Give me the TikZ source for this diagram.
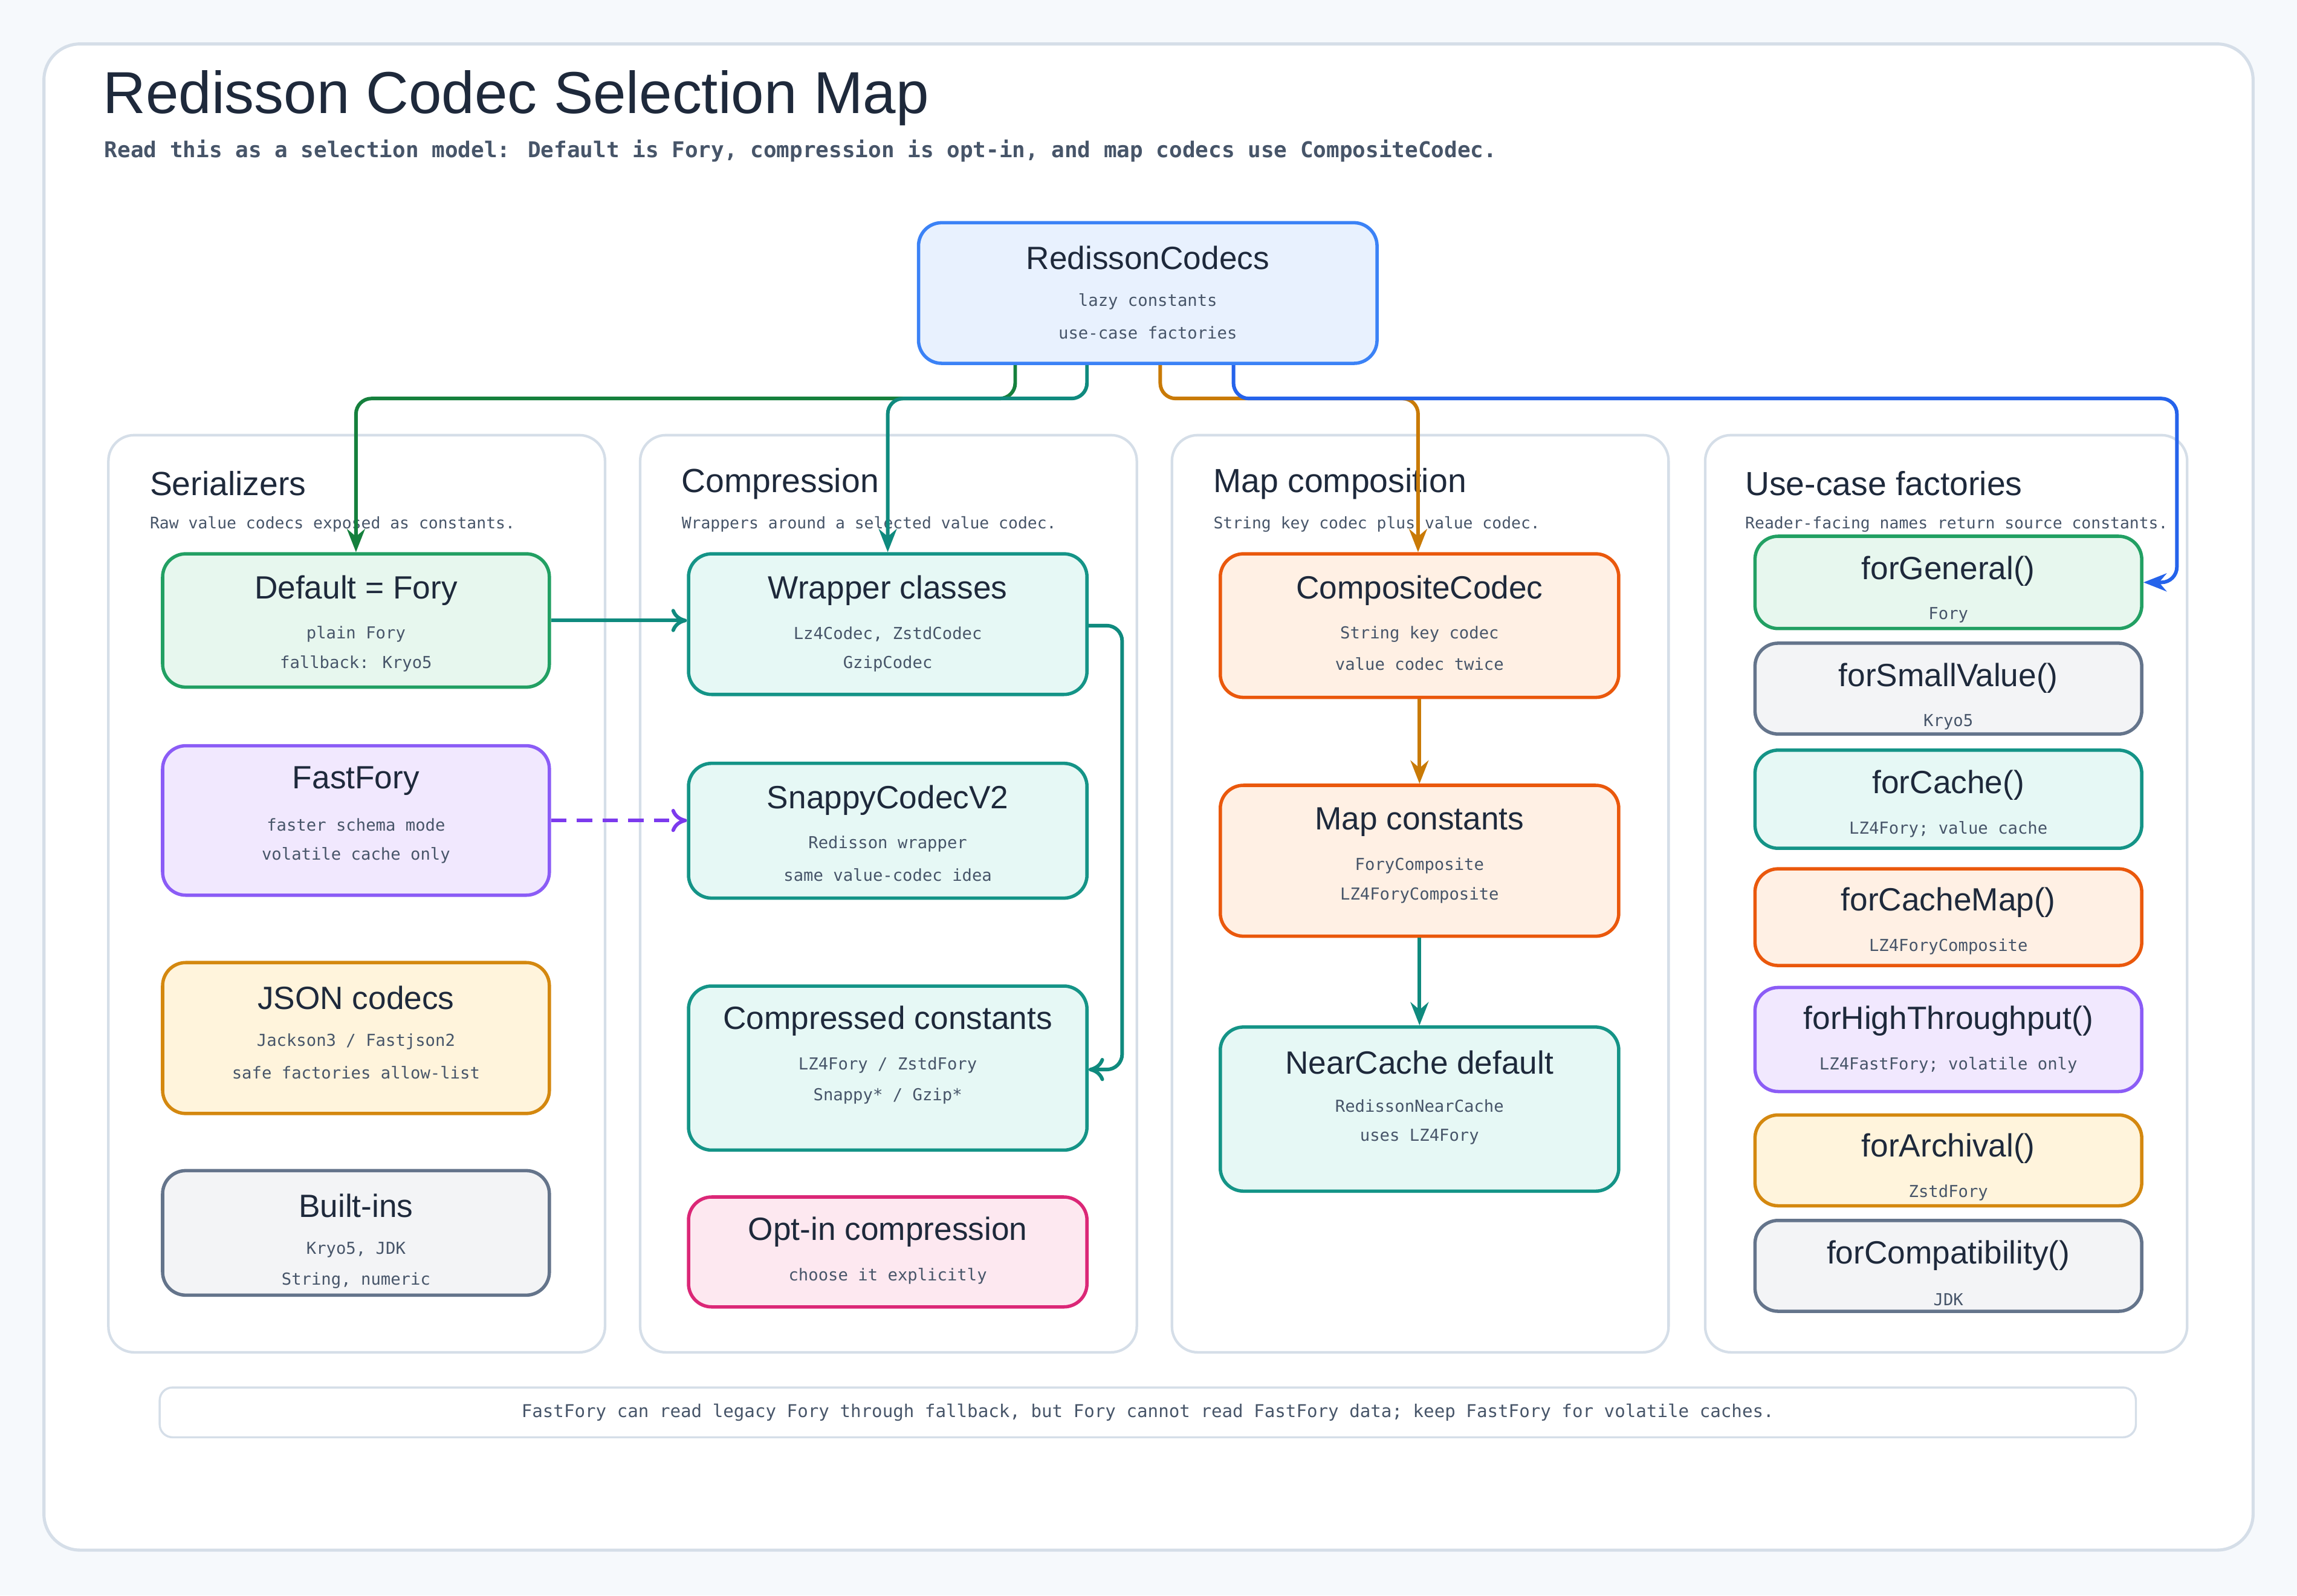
\documentclass[tikz,border=0pt]{standalone}
\usepackage{fontspec}
\setmainfont{Liberation Sans}
\newfontfamily\monof{DejaVu Sans Mono}
\usetikzlibrary{arrows.meta,calc}
\definecolor{bgc}{HTML}{F6F9FC}
\definecolor{frame}{HTML}{D5DEE8}
\definecolor{ink}{HTML}{1E293B}
\definecolor{sub}{HTML}{475569}
\definecolor{gF}{HTML}{E7F7EE}\definecolor{gS}{HTML}{22A063}
\definecolor{pF}{HTML}{F1E8FE}\definecolor{pS}{HTML}{8B5CF6}
\definecolor{aF}{HTML}{FFF4DC}\definecolor{aS}{HTML}{D4880F}
\definecolor{yF}{HTML}{F3F4F6}\definecolor{yS}{HTML}{64748B}
\definecolor{tF}{HTML}{E6F8F5}\definecolor{tS}{HTML}{149487}
\definecolor{kF}{HTML}{FDE8F0}\definecolor{kS}{HTML}{DB2777}
\definecolor{oF}{HTML}{FFF0E4}\definecolor{oS}{HTML}{EA580C}
\definecolor{bF}{HTML}{E8F1FE}\definecolor{bS}{HTML}{3B82F6}
\definecolor{cG}{HTML}{15803D}\definecolor{cT}{HTML}{0F8A7E}
\definecolor{cO}{HTML}{C97A06}\definecolor{cB}{HTML}{2563EB}
\definecolor{cP}{HTML}{7C3AED}
\tikzset{
 box/.style={draw, line width=1.3pt, rounded corners=9pt, inner sep=0pt},
 green/.style={box,fill=gF,draw=gS}, purple/.style={box,fill=pF,draw=pS},
 amber/.style={box,fill=aF,draw=aS}, gray/.style={box,fill=yF,draw=yS},
 teal/.style={box,fill=tF,draw=tS}, pink/.style={box,fill=kF,draw=kS},
 orange/.style={box,fill=oF,draw=oS}, blue/.style={box,fill=bF,draw=bS},
 col/.style={draw=frame, line width=1pt, fill=white, rounded corners=10pt},
 ttl/.style={text=ink, font=\fontsize{12.5}{14}\selectfont, inner sep=0pt},
 bdy/.style={text=sub, font=\monof\fontsize{6.4}{8}\selectfont, inner sep=0pt},
 colt/.style={text=ink, font=\fontsize{13}{15}\selectfont, anchor=west, inner sep=0pt},
 cols/.style={text=sub, font=\monof\fontsize{6.2}{8}\selectfont, anchor=west, inner sep=0pt},
 con/.style={line width=1.4pt, rounded corners=6pt},
}
\newcommand\cb[9]{%
 \node[#6, minimum width={(#4-#2)*0.02cm}, minimum height={(#5-#3)*0.02cm}] (#1) at ({(#2+#4)/2},{(#3+#5)/2}) {};
 \node[ttl] at ({(#2+#4)/2},#8) {#7};
 \node[bdy] at ({(#2+#4)/2},#8+30) {#9};}
\newcommand\bl[3]{\node[bdy] at (#1,#2) {#3};}
\begin{document}
\begin{tikzpicture}[x=0.02cm,y=-0.02cm]
\fill[bgc] (0,0) rectangle (1568,1089);
\useasboundingbox (0,0) rectangle (1568,1089);
\draw[frame, line width=1.2pt, fill=white, rounded corners=14pt] (30,30) rectangle (1538,1058);
\node[anchor=west, text=ink, font=\fontsize{23}{26}\selectfont, inner sep=0pt] at (70,67) {Redisson Codec Selection Map};
\node[anchor=west, text=sub, font=\monof\bfseries\fontsize{8.45}{10}\selectfont, inner sep=0pt] at (71,103) {Read this as a selection model: Default is Fory, compression is opt-in, and map codecs use CompositeCodec.};
% columns
\draw[col] (74,297) rectangle (413,923);
\draw[col] (437,297) rectangle (776,923);
\draw[col] (800,297) rectangle (1139,923);
\draw[col] (1164,297) rectangle (1493,923);
\node[colt] at (102,330) {Serializers};
\node[cols] at (102,358) {Raw value codecs exposed as constants.};
\node[colt] at (465,330) {Compression};
\node[cols] at (465,358) {Wrappers around a selected value codec.};
\node[colt] at (828,330) {Map composition};
\node[cols] at (828,358) {String key codec plus value codec.};
\node[colt] at (1191,330) {Use-case factories};
\node[cols] at (1191,358) {Reader-facing names return source constants.};
% top
\cb{top}{627}{152}{940}{248}{blue}{RedissonCodecs}{176}{lazy constants}
\bl{783.5}{227}{use-case factories}
% col1
\cb{def}{111}{378}{375}{469}{green}{Default = Fory}{403}{plain Fory}
\bl{243}{453}{fallback: Kryo5}
\cb{fast}{111}{509}{375}{611}{purple}{FastFory}{533}{faster schema mode}
\bl{243}{584}{volatile cache only}
\cb{json}{111}{657}{375}{760}{amber}{JSON codecs}{681}{Jackson3 / Fastjson2}
\bl{243}{732}{safe factories allow-list}
\cb{bi}{111}{799}{375}{884}{gray}{Built-ins}{823}{Kryo5, JDK}
\bl{243}{874}{String, numeric}
% col2
\cb{wrap}{470}{378}{742}{474}{teal}{Wrapper classes}{403}{Lz4Codec, ZstdCodec}
\bl{606}{453}{GzipCodec}
\cb{snap}{470}{521}{742}{613}{teal}{SnappyCodecV2}{546}{Redisson wrapper}
\bl{606}{597}{same value-codec idea}
\cb{comp}{470}{673}{742}{785}{teal}{Compressed constants}{697}{LZ4Fory / ZstdFory}
\bl{606}{748}{Snappy* / Gzip*}
\cb{opt}{470}{817}{742}{892}{pink}{Opt-in compression}{841}{choose it explicitly}
% col3
\cb{cc}{833}{378}{1105}{476}{orange}{CompositeCodec}{403}{String key codec}
\bl{969}{453}{value codec twice}
\cb{mc}{833}{536}{1105}{639}{orange}{Map constants}{561}{ForyComposite}
\bl{969}{611}{LZ4ForyComposite}
\cb{nc}{833}{701}{1105}{813}{teal}{NearCache default}{725}{RedissonNearCache}
\bl{969}{776}{uses LZ4Fory}
% col4
\cb{f1}{1198}{366}{1462}{429}{green}{forGeneral()}{390}{Fory}
\cb{f2}{1198}{439}{1462}{501}{gray}{forSmallValue()}{463}{Kryo5}
\cb{f3}{1198}{512}{1462}{579}{teal}{forCache()}{536}{LZ4Fory; value cache}
\cb{f4}{1198}{593}{1462}{659}{orange}{forCacheMap()}{616}{LZ4ForyComposite}
\cb{f5}{1198}{674}{1462}{745}{purple}{forHighThroughput()}{697}{LZ4FastFory; volatile only}
\cb{f6}{1198}{761}{1462}{823}{amber}{forArchival()}{784}{ZstdFory}
\cb{f7}{1198}{833}{1462}{895}{gray}{forCompatibility()}{857}{JDK}
% footer
\node[draw=frame, line width=0.8pt, fill=white, rounded corners=5pt, minimum width={1349*0.02cm}, minimum height={34*0.02cm}, text=sub, font=\monof\fontsize{6.85}{9}\selectfont] (foot) at (783.5,964) {FastFory can read legacy Fory through fallback, but Fory cannot read FastFory data; keep FastFory for volatile caches.};
% connectors
\draw[con, cG, -{Stealth[length=9pt,width=7pt]}] ($(top.south)+(-90.5,0)$) |- (243,272) -- (def.north);
\draw[con, cT, -{Stealth[length=9pt,width=7pt]}] ($(top.south)+(-41.5,0)$) |- (606,272) -- (wrap.north);
\draw[con, cO, -{Stealth[length=9pt,width=7pt]}] ($(top.south)+(8.5,0)$) |- (968,272) -- ($(cc.north)+(-1,0)$);
\draw[con, cB, -{Stealth[length=9pt,width=7pt]}] ($(top.south)+(58.5,0)$) |- (1486,272) |- (f1.east);
\draw[con, cT, -{To[length=6pt,width=9pt]}] (def.east) -- (wrap.west |- def.east);
\draw[con, cP, dashed, dash pattern=on 6pt off 4pt, -{To[length=6pt,width=9pt]}] (fast.east) -- (snap.west |- fast.east);
\draw[con, cT, -{To[length=6pt,width=9pt]}] ($(wrap.east)+(0,1)$) -| (766,600) |- ($(comp.east)+(0,1)$);
\draw[con, cO, -{Stealth[length=9pt,width=7pt]}] (cc.south) -- (mc.north);
\draw[con, cT, -{Stealth[length=9pt,width=7pt]}] (mc.south) -- (nc.north);
\end{tikzpicture}
\end{document}
